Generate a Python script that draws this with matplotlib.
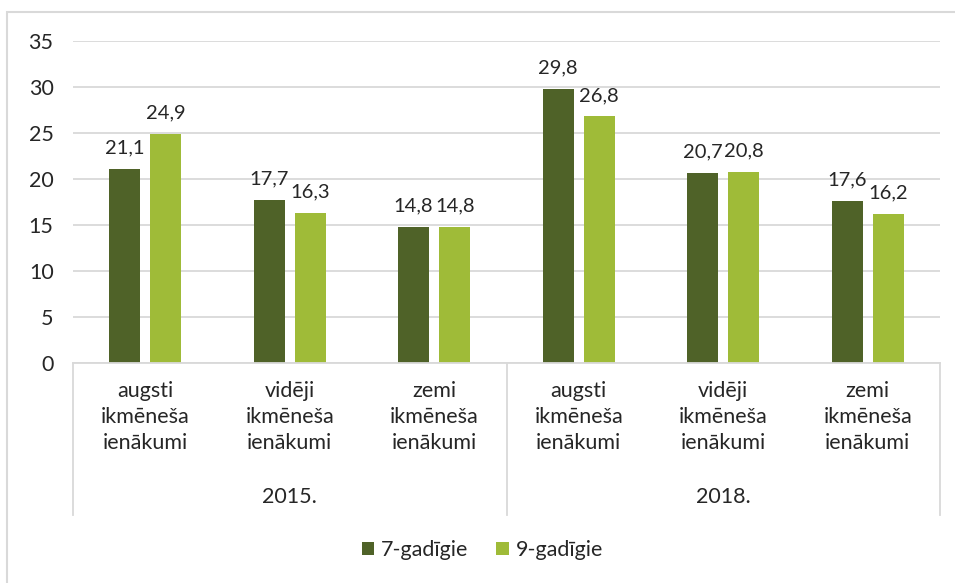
import numpy as np
import matplotlib.pyplot as plt
from matplotlib.patches import Rectangle
from matplotlib.transforms import blended_transform_factory

plt.rcParams["font.family"] = ["Lato", "DejaVu Sans"]

# dati
categories = ["augsti\nikmēneša\nienākumi", "vidēji\nikmēneša\nienākumi",
              "zemi\nikmēneša\nienākumi"] * 2
years = ["2015.", "2018."]
series_names = ["7-gadīgie", "9-gadīgie"]
vals_7 = [21.1, 17.7, 14.8, 29.8, 20.7, 17.6]
vals_9 = [24.9, 16.3, 14.8, 26.8, 20.8, 16.2]

c_dark = "#4F6228"
c_light = "#9FBB38"
grid_c = "#D9D9D9"
txt_c = "#262626"
fs = 15.5

fig = plt.figure(figsize=(9.55, 5.83), dpi=100)
ax = fig.add_axes([73 / 955, 1 - 363 / 583, (940 - 73) / 955, (363 - 41) / 583])

x = np.arange(len(categories))
w = 0.215
gap = 0.07
off = (w + gap) / 2
b1 = ax.bar(x - off, vals_7, w, color=c_dark, label=series_names[0], zorder=3)
b2 = ax.bar(x + off, vals_9, w, color=c_light, label=series_names[1], zorder=3)

# vērtību uzraksti virs stabiņiem
for bars, vals in ((b1, vals_7), (b2, vals_9)):
    for b, v in zip(bars, vals):
        ax.annotate(f"{v:.1f}".replace(".", ","),
                    (b.get_x() + b.get_width() / 2, v),
                    xytext=(0, 9), textcoords="offset points",
                    ha="center", va="bottom", fontsize=14.5, color=txt_c)

ax.set_xlim(-0.5, len(categories) - 0.5)
ax.set_ylim(0, 35)
ax.set_yticks(range(0, 36, 5))
ax.yaxis.grid(True, color=grid_c, lw=1.3, zorder=0)
ax.set_axisbelow(True)
for s in ax.spines.values():
    s.set_visible(False)
ax.tick_params(axis="y", length=0, pad=14, labelsize=fs, labelcolor=txt_c)
ax.tick_params(axis="x", length=0, labelbottom=False)

# divlīmeņu kategoriju ass
trans = blended_transform_factory(ax.transData, ax.transAxes)
ax.plot([-0.5, len(categories) - 0.5], [0, 0], color=grid_c, lw=1.3,
        transform=trans, clip_on=False, zorder=4)
low = -152 / 322
for xs in (-0.5, 2.5, 5.5):
    ax.plot([xs, xs], [0, low], color=grid_c, lw=1.3, transform=trans,
            clip_on=False)

for xi, lab in zip(x, categories):
    ax.text(xi, -18 / 322, lab, transform=trans, ha="center", va="top",
            fontsize=fs, color=txt_c, linespacing=1.38)
for i, yr in enumerate(years):
    ax.text(1 + 3 * i, -134 / 322, yr, transform=trans, ha="center",
            va="center", fontsize=fs, color=txt_c)

fig.legend(loc="center", bbox_to_anchor=(0.505, 1 - 550 / 583), ncol=2,
           frameon=False, fontsize=fs, handlelength=0.6, handleheight=0.6,
           handletextpad=0.3, columnspacing=1.3, labelcolor=txt_c)

fig.patches.append(Rectangle((7 / 955, -0.01), 1.0, 1 - 12 / 583 + 0.01,
                             transform=fig.transFigure, fill=False,
                             edgecolor=grid_c, lw=1.5))

fig.savefig("out.png", dpi=100)
